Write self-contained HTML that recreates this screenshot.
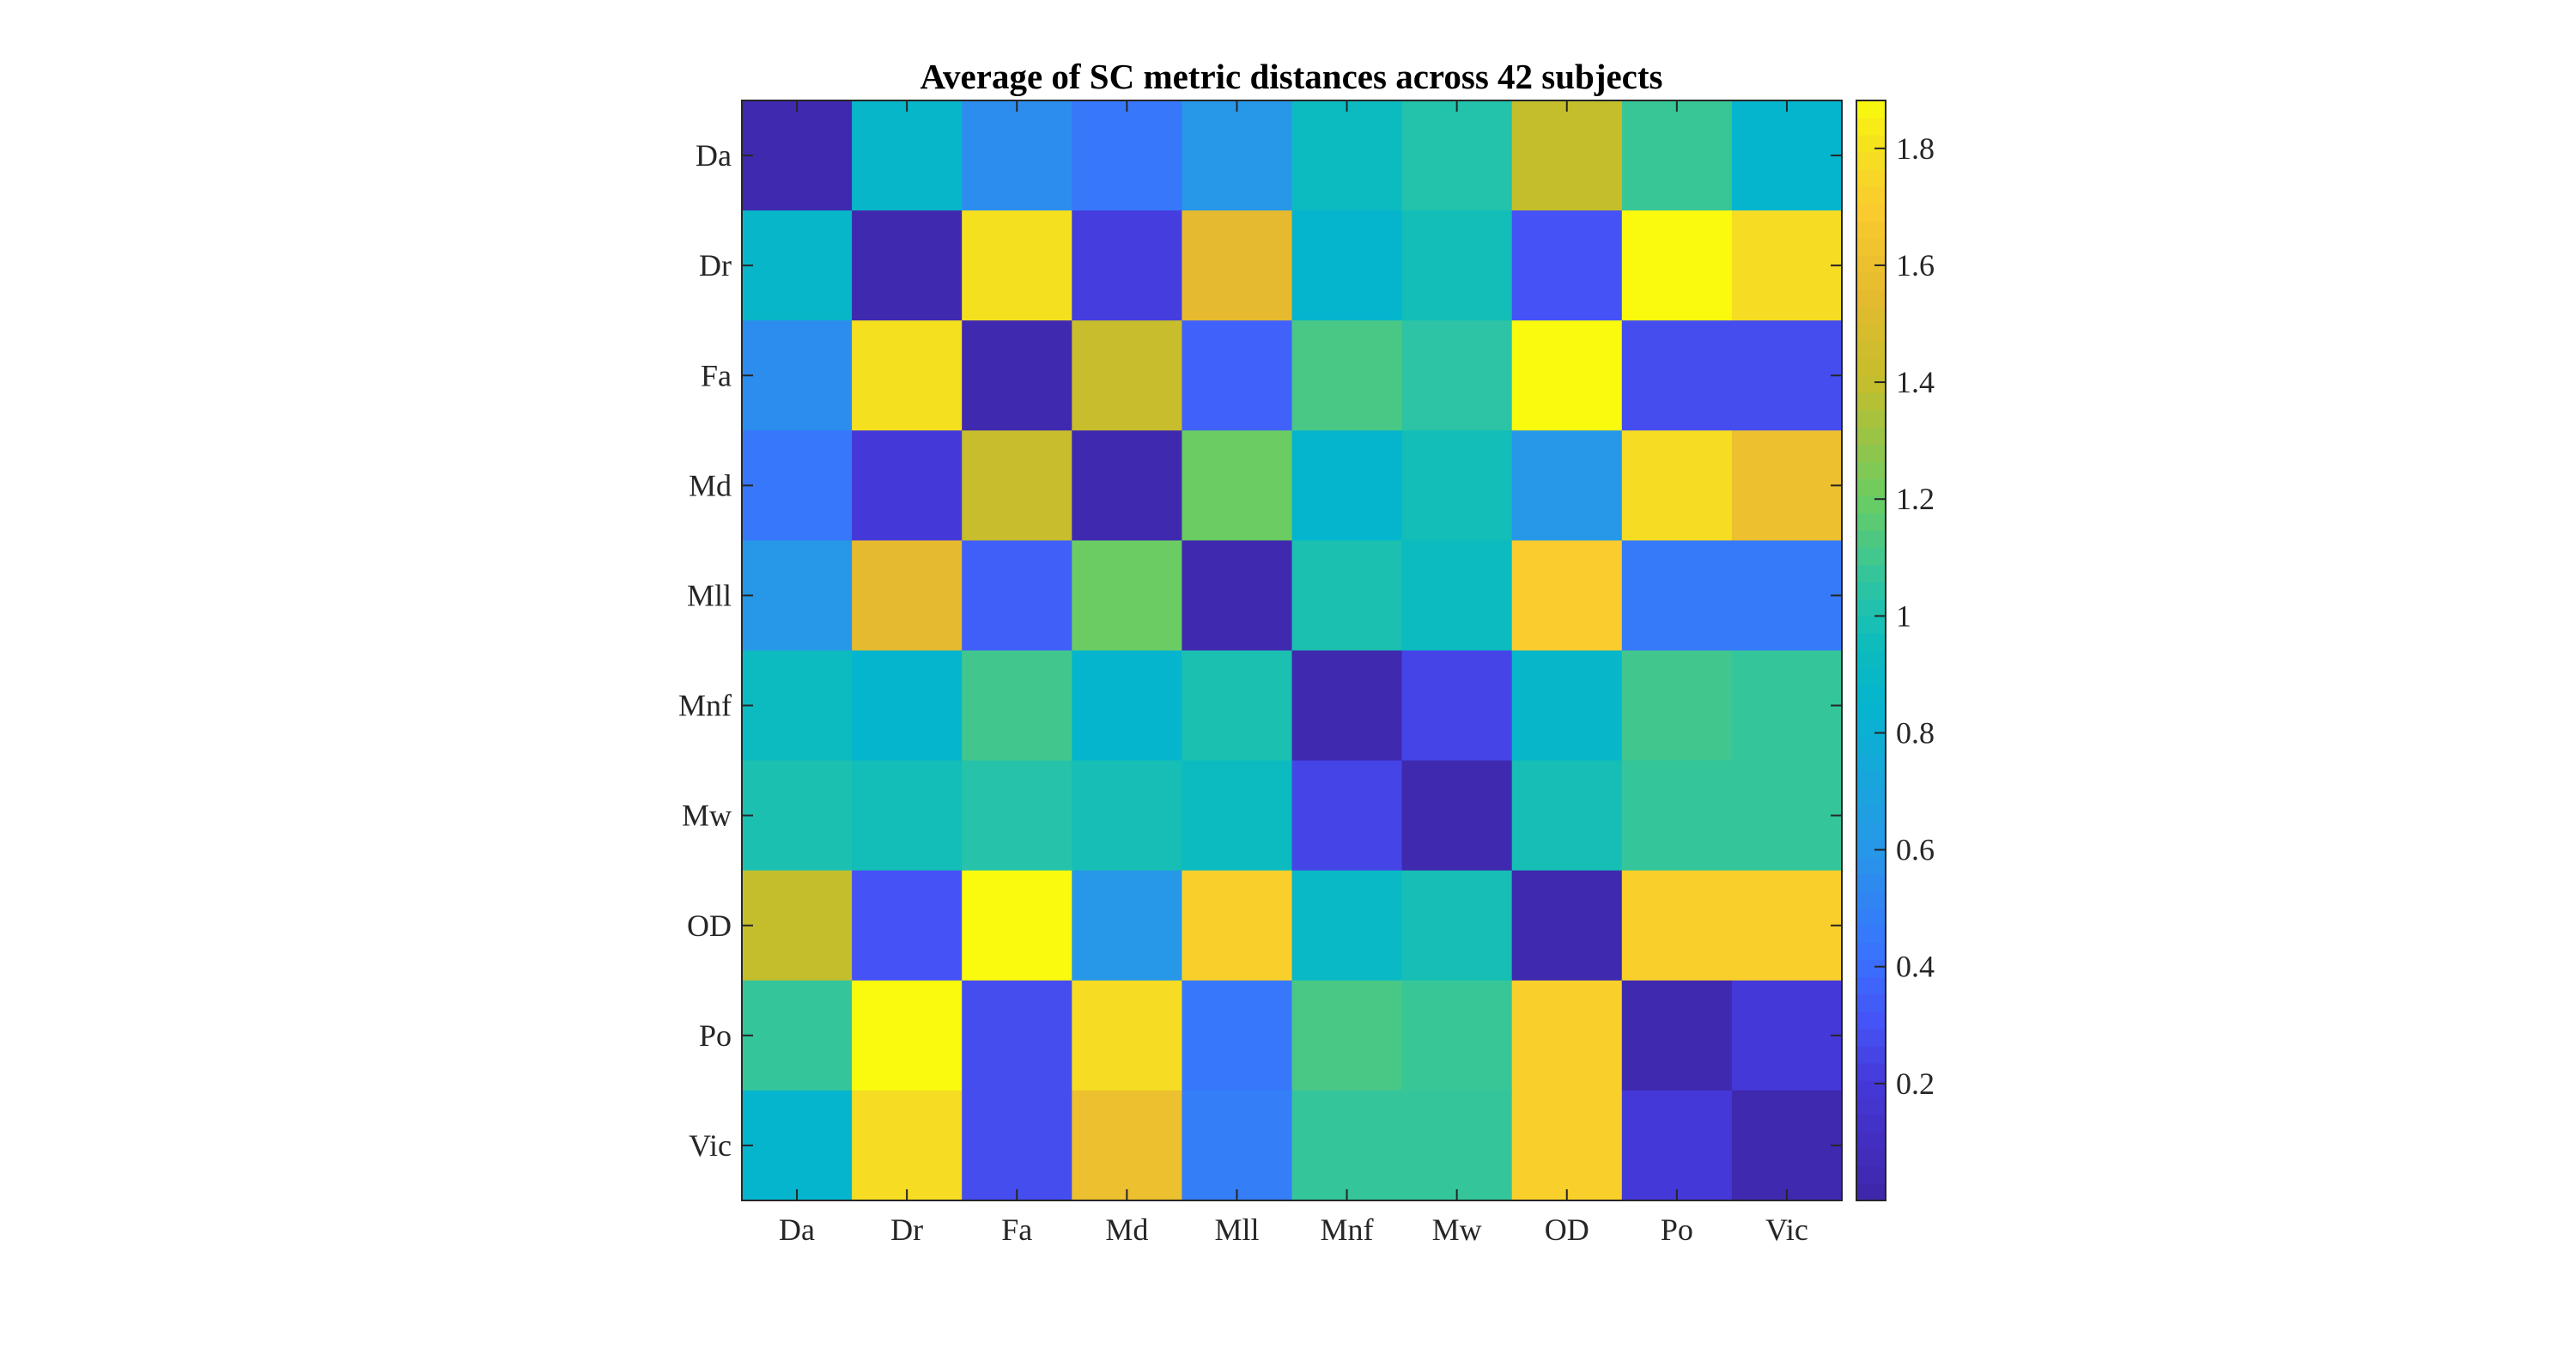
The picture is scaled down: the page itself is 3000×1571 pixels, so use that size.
<!DOCTYPE html>
<html><head><meta charset="utf-8"><style>
html,body{margin:0;padding:0;background:#fff;}
svg{display:block;font-family:"Liberation Serif",serif;}
</style></head><body>
<svg id="chart" width="3000" height="1571" viewBox="0 0 3000 1571">
<text x="1504" y="103" text-anchor="middle" font-size="41" font-weight="bold" fill="#000">Average of SC metric distances across 42 subjects</text>
<g id="cells"></g>
<g id="axes"></g>
<g id="cbar"></g>
</svg>
<script>
const categories = ["Da","Dr","Fa","Md","Mll","Mnf","Mw","OD","Po","Vic"];
const rowDa  = [0.03,0.88,0.55,0.45,0.60,0.93,1.02,1.40,1.08,0.85];
const rowDr  = [0.88,0.03,1.80,0.22,1.55,0.85,0.97,0.30,1.88,1.78];
const rowFa  = [0.55,1.80,0.03,1.42,0.36,1.12,1.05,1.88,0.28,0.28];
const rowMd  = [0.45,0.20,1.42,0.03,1.20,0.85,0.97,0.60,1.78,1.60];
const rowMll = [0.60,1.55,0.35,1.20,0.03,1.00,0.93,1.70,0.46,0.46];
const rowMnf = [0.93,0.85,1.10,0.85,1.00,0.03,0.25,0.88,1.10,1.07];
const rowMw  = [1.00,0.97,1.03,0.98,0.93,0.25,0.03,0.98,1.07,1.07];
const rowOD  = [1.40,0.30,1.88,0.60,1.72,0.90,0.98,0.03,1.72,1.72];
const rowPo  = [1.07,1.88,0.28,1.78,0.45,1.12,1.08,1.72,0.03,0.20];
const rowVic = [0.85,1.78,0.28,1.60,0.48,1.07,1.07,1.72,0.20,0.03];
const values = [rowDa,rowDr,rowFa,rowMd,rowMll,rowMnf,rowMw,rowOD,rowPo,rowVic];
const cbarTicks = [0.2,0.4,0.6,0.8,1,1.2,1.4,1.6,1.8];
const cbarTickLabels = ["0.2","0.4","0.6","0.8","1","1.2","1.4","1.6","1.8"];
const cmin = 0, cmax = 1.882;

const NS="http://www.w3.org/2000/svg";
const L=864,T=117,W=1281,H=1281;
const n=categories.length, cw=W/n, ch=H/n;
const xPos=i=>L+i*cw, yPos=i=>T+i*ch;
const stops=[[0.0,"3E26A8"],[0.2,"4538D8"],[0.3,"4552F5"],[0.42,"3A72FF"],[0.6,"2797E8"],[0.85,"05B5CE"],[0.95,"0CBCBC"],[1.05,"2CC4A4"],[1.2,"6ACC62"],[1.4,"C4BE2C"],[1.55,"E5BA2E"],[1.7,"FACC2E"],[1.8,"F5E020"],[1.882,"F9FB0E"]];
function hex(h){return [0,2,4].map(k=>parseInt(h.substr(k,2),16));}
function color(v){
  if(v<=stops[0][0])return "#"+stops[0][1];
  for(let i=1;i<stops.length;i++){
    if(v<=stops[i][0]){
      const a=hex(stops[i-1][1]),b=hex(stops[i][1]),t=(v-stops[i-1][0])/(stops[i][0]-stops[i-1][0]);
      return "rgb("+a.map((c,k)=>Math.round(c+(b[k]-c)*t)).join(",")+")";
    }
  }
  return "#"+stops[stops.length-1][1];
}
function mk(tag,attrs,parent){const e=document.createElementNS(NS,tag);for(const k in attrs)e.setAttribute(k,attrs[k]);parent.appendChild(e);return e;}
const cells=document.getElementById('cells');
values.forEach((row,r)=>row.forEach((v,c)=>{
  const e=mk('rect',{x:xPos(c),y:yPos(r),width:cw+0.6,height:ch+0.6,fill:color(v)},cells);
  
  
}));
const ax=document.getElementById('axes');
const frame=mk('rect',{x:L,y:T,width:W,height:H,fill:"none",stroke:"#262626","stroke-width":2},ax);


categories.forEach((c,i)=>{
  const cx=L+(i+0.5)*cw, cy=T+(i+0.5)*ch;
  mk('line',{x1:cx,y1:T,x2:cx,y2:T+13,stroke:"#262626","stroke-width":2},ax);
  mk('line',{x1:cx,y1:T+H,x2:cx,y2:T+H-13,stroke:"#262626","stroke-width":2},ax);
  mk('line',{x1:L,y1:cy,x2:L+13,y2:cy,stroke:"#262626","stroke-width":2},ax);
  mk('line',{x1:L+W,y1:cy,x2:L+W-13,y2:cy,stroke:"#262626","stroke-width":2},ax);
  const xt=mk('text',{x:cx,y:1444,"text-anchor":"middle","font-size":36,fill:"#262626"},ax);
  xt.textContent=c;
  
  
  const yt=mk('text',{x:852,y:cy+12,"text-anchor":"end","font-size":36,fill:"#262626"},ax);
  yt.textContent=c;
  
  
});
const cb=document.getElementById('cbar');
const CL=2162,CW=34,CT=117,CB=1398;
const cy=v=>CB-(v-cmin)/(cmax-cmin)*(CB-CT);
const N=64;
for(let i=0;i<N;i++){
  const v0=cmin+(cmax-cmin)*i/N,v1=cmin+(cmax-cmin)*(i+1)/N;
  const e=mk('rect',{x:CL,y:cy(v1),width:CW,height:cy(v0)-cy(v1)+0.6,fill:color((v0+v1)/2)},cb);
  
  
}
const cf=mk('rect',{x:CL,y:CT,width:CW,height:CB-CT,fill:"none",stroke:"#262626","stroke-width":2},cb);


cbarTicks.forEach((t,i)=>{
  const y=cy(t);
  mk('line',{x1:CL+CW-13,y1:y,x2:CL+CW,y2:y,stroke:"#262626","stroke-width":2},cb);
  const tx=mk('text',{x:2208,y:y+12,"font-size":36,fill:"#262626"},cb);
  tx.textContent=cbarTickLabels[i];
  
  
});
</script>
</body></html>
